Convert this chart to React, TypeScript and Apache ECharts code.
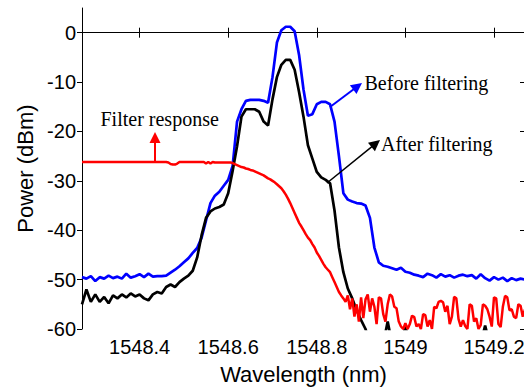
import React, { useEffect, useRef } from "react";
import * as echarts from "echarts";

// ---- Data ----
const WL_START = 1548.27;
const WL_END = 1549.27;
const STEP_MAIN = 0.01; // sampling step for blue / black traces (nm)
const STEP_RED = 0.005; // sampling step for the filter response (nm)

const xTicks = [1548.4, 1548.6, 1548.8, 1549.0, 1549.2];
const yTicks = [-60, -50, -40, -30, -20, -10, 0];

// Before filtering (blue), dBm
const beforeFiltering = [
  -49.5, -49.8, -49.3, -50.3, -49.5, -49.8, -49.2, -49.7, -49.4, -49.8,
  -48.8, -49.6, -49.3, -48.9, -49.5, -48.8, -49.4, -49.3, -49.3, -49.2,
  -48.6, -48.0, -47.3, -46.5, -45.7, -44.6, -43.6, -41.5, -38.0, -34.5,
  -33.0, -32.2, -31.0, -29.8, -27.0, -18.0, -15.5, -13.8, -13.6, -13.6,
  -13.6, -13.8, -14.2, -9.0, -2.0, 0.5, 1.2, 1.2, 0.3, -4.5,
  -11.5, -16.8, -16.5, -14.5, -14.0, -14.0, -14.5, -18.0, -25.0, -32.5,
  -33.8, -34.2, -34.5, -34.6, -35.0, -37.5, -43.5, -46.5, -47.2, -47.4,
  -47.7, -48.0, -47.6, -48.4, -48.6, -49.0, -49.2, -49.5, -48.8, -49.1,
  -49.6, -48.9, -49.4, -49.1, -49.6, -49.2, -49.0, -49.3, -49.1, -49.8,
  -48.9, -49.7, -50.2, -49.5, -50.0, -49.6, -50.3, -49.7, -50.1, -49.8,
  -50.0,
];

// After filtering (black), dBm
const afterFiltering = [
  -55.0, -52.0, -54.5, -53.0, -54.5, -53.5, -54.8, -53.2, -53.8, -53.0,
  -53.6, -52.8, -53.4, -53.0, -53.8, -54.2, -53.0, -52.5, -52.8, -51.5,
  -51.0, -51.5, -50.5, -49.8, -49.2, -48.2, -45.5, -41.0, -37.5, -36.2,
  -35.6, -35.3, -34.8, -32.5, -28.0, -23.0, -17.0, -15.5, -15.5, -15.5,
  -16.0, -18.0, -18.8, -13.5, -9.0, -6.5, -5.5, -5.5, -7.5, -12.0,
  -17.0, -22.8, -25.5, -28.2, -29.3, -29.8, -30.5, -36.0, -43.5, -48.5,
  -51.8, -53.8, -56.2, -58.2, -60.0, -63.0, -63.0, -63.0, -63.0, -58.5,
  -63.0, -63.0, -63.0, -59.5, -63.0, -63.0, -63.0, -63.0, -63.0, -63.0,
  -63.0, -63.0, -63.0, -63.0, -63.0, -63.0, -63.0, -63.0, -63.0, -63.0,
  -63.0, -59.3, -63.0, -63.0, -63.0, -63.0, -63.0, -63.0, -63.0, -63.0,
  -63.0,
];

// Filter response (red), dBm
const filterResponse = [
  -26.2, -26.2, -26.2, -26.2, -26.2, -26.2, -26.2, -26.2, -26.2, -26.2,
  -26.2, -26.2, -26.2, -26.2, -26.2, -26.2, -26.2, -26.2, -26.2, -26.2,
  -26.2, -26.2, -26.2, -26.2, -26.2, -26.2, -26.2, -26.2, -26.2, -26.2,
  -26.2, -26.2, -26.2, -26.2, -26.2, -26.2, -26.2, -26.2, -26.2,
  -26.3, -26.6, -26.7, -26.7, -26.5, -26.2,
  -26.2, -26.2, -26.2, -26.2, -26.2, -26.2, -26.2, -26.2, -26.2, -26.2, -26.2,
  -26.5, -26.2, -26.5, -26.2, -26.3,
  -26.3, -26.3, -26.3, -26.3, -26.3, -26.3, -26.3,
  -26.4, -26.6, -26.8, -27.0, -27.2, -27.3, -27.5, -27.6, -27.8, -27.9,
  -28.1, -28.3, -28.5, -28.7, -28.9, -29.2, -29.5, -29.7, -30.0, -30.3,
  -30.7, -31.1, -31.5, -32.1, -32.8, -33.6, -34.5, -35.5, -36.5, -37.5,
  -38.5, -39.2, -40.0, -40.8, -41.5, -42.0, -42.8, -43.5, -44.5, -45.2,
  -46.0, -46.8, -47.5, -48.0, -48.5, -49.5, -50.5, -51.5, -52.5, -53.2,
  -53.8,
  -54.5, -53.2, -56.0, -53.8, -57.5, -55.0, -58.5, -53.6, -57.8, -54.0,
  -53.0, -56.5, -53.8, -55.5, -59.0, -53.6, -53.8, -57.0, -58.5, -55.0,
  -53.0, -53.4, -55.5, -55.8, -58.5, -59.5, -60.0, -58.8, -60.0, -59.0,
  -57.3, -57.6, -59.5, -59.0, -60.0, -57.0, -57.2, -59.5, -58.2, -60.0,
  -55.5, -55.8, -54.5, -54.3, -54.6, -56.5, -55.3, -59.0, -57.5, -53.5,
  -53.8, -58.0, -59.5, -58.2, -59.4, -60.0, -55.0, -55.3, -58.5, -57.8,
  -60.0, -59.2, -55.0, -55.3, -56.0, -57.5, -59.5, -53.6, -53.8, -59.0,
  -59.6, -55.5, -53.3, -53.6, -56.2, -56.0, -57.5, -57.8, -55.0, -55.3,
  -57.5, -56.0,
];

const toPairs = (vals: number[], step: number) =>
  vals.map((v, i) => [Math.round((WL_START + i * step) * 10000) / 10000, v]);

// ---- Annotation helpers ----
const FONT_SANS = "'Liberation Sans', Arial, sans-serif";
const FONT_SERIF = "'Liberation Serif', 'Times New Roman', serif";

function arrow(x1: number, y1: number, x2: number, y2: number, color: string, lw: number) {
  const dx = x2 - x1;
  const dy = y2 - y1;
  const len = Math.sqrt(dx * dx + dy * dy);
  const ux = dx / len;
  const uy = dy / len;
  const hl = 11;
  const hw = 5.5;
  const bx = x2 - ux * hl;
  const by = y2 - uy * hl;
  const px = -uy;
  const py = ux;
  return [
    {
      type: "line",
      shape: { x1, y1, x2: bx + ux * 1, y2: by + uy * 1 },
      style: { stroke: color, lineWidth: lw },
      z: 100,
    },
    {
      type: "polygon",
      shape: {
        points: [
          [x2, y2],
          [bx + px * hw, by + py * hw],
          [bx - px * hw, by - py * hw],
        ],
      },
      style: { fill: color },
      z: 100,
    },
  ];
}

function label(text: string, x: number, y: number) {
  return {
    type: "text",
    x,
    y,
    style: {
      text,
      fill: "#000",
      font: `20px ${FONT_SERIF}`,
      fontSize: 20,
      fontFamily: FONT_SERIF,
      align: "left",
      verticalAlign: "middle",
    },
    z: 100,
  };
}

export default function App() {
  const ref = useRef<HTMLDivElement>(null);

  useEffect(() => {
    if (!ref.current) return;
    const chart = echarts.init(ref.current, undefined, { renderer: "svg" });

    const axisLine = { show: true, lineStyle: { color: "#000", width: 1 } };

    const option: any = {
      animation: false,
      backgroundColor: "#fff",
      grid: { left: 82, top: 8, right: 5, bottom: 58, containLabel: false },
      xAxis: [
        {
          type: "value",
          position: "bottom",
          min: WL_START,
          max: WL_END,
          axisLine,
          splitLine: { show: false },
          axisTick: { inside: true, length: 5, customValues: xTicks, lineStyle: { color: "#000" } },
          axisLabel: {
            customValues: xTicks,
            margin: 8,
            color: "#000",
            fontSize: 20,
            fontFamily: FONT_SANS,
            formatter: (v: number) => String(Math.round(v * 10) / 10),
          },
          name: "Wavelength (nm)",
          nameLocation: "middle",
          nameGap: 34,
          nameTextStyle: { color: "#000", fontSize: 22, fontFamily: FONT_SANS },
        },
        {
          type: "value",
          position: "top",
          min: WL_START,
          max: WL_END,
          axisLine,
          splitLine: { show: false },
          axisTick: { inside: true, length: 5, customValues: xTicks, lineStyle: { color: "#000" } },
          axisLabel: { show: false },
        },
      ],
      yAxis: [
        {
          type: "value",
          position: "left",
          min: -60,
          max: 5,
          axisLine,
          splitLine: { show: false },
          axisTick: { inside: false, length: 5, customValues: yTicks, lineStyle: { color: "#000" } },
          axisLabel: {
            customValues: yTicks,
            margin: 6,
            color: "#000",
            fontSize: 20,
            fontFamily: FONT_SANS,
          },
          name: "Power (dBm)",
          nameLocation: "middle",
          nameGap: 46,
          nameTextStyle: { color: "#000", fontSize: 22, fontFamily: FONT_SANS },
        },
        {
          type: "value",
          position: "right",
          min: -60,
          max: 5,
          axisLine,
          splitLine: { show: false },
          axisTick: { inside: true, length: 5, customValues: yTicks, lineStyle: { color: "#000" } },
          axisLabel: { show: false },
        },
      ],
      series: [
        {
          name: "Before filtering",
          type: "line",
          data: toPairs(beforeFiltering, STEP_MAIN),
          showSymbol: false,
          clip: true,
          lineStyle: { color: "#0000ff", width: 2.7 },
          itemStyle: { color: "#0000ff" },
          z: 2,
        },
        {
          name: "After filtering",
          type: "line",
          data: toPairs(afterFiltering, STEP_MAIN),
          showSymbol: false,
          clip: true,
          lineStyle: { color: "#000000", width: 2.7 },
          itemStyle: { color: "#000000" },
          z: 3,
        },
        {
          name: "Filter response",
          type: "line",
          data: toPairs(filterResponse, STEP_RED),
          showSymbol: false,
          clip: true,
          lineStyle: { color: "#ff0000", width: 2.5 },
          itemStyle: { color: "#ff0000" },
          z: 4,
        },
      ],
      graphic: [
        label("Filter response", 100.5, 119.3),
        label("Before filtering", 364.5, 83.3),
        label("After filtering", 381, 144),
        ...arrow(155, 163, 155, 132, "#ff0000", 2),
        ...arrow(330, 107, 362, 83, "#0000ff", 2),
        ...arrow(327, 183, 380, 140, "#000000", 1.5),
      ],
    };

    chart.setOption(option);
    return () => chart.dispose();
  }, []);

  return (
    <div
      style={{
        position: "fixed",
        left: 0,
        top: 0,
        width: 524,
        height: 390,
        overflow: "hidden",
        background: "#fff",
      }}
    >
      <div ref={ref} style={{ width: 530, height: 390 }} />
    </div>
  );
}
